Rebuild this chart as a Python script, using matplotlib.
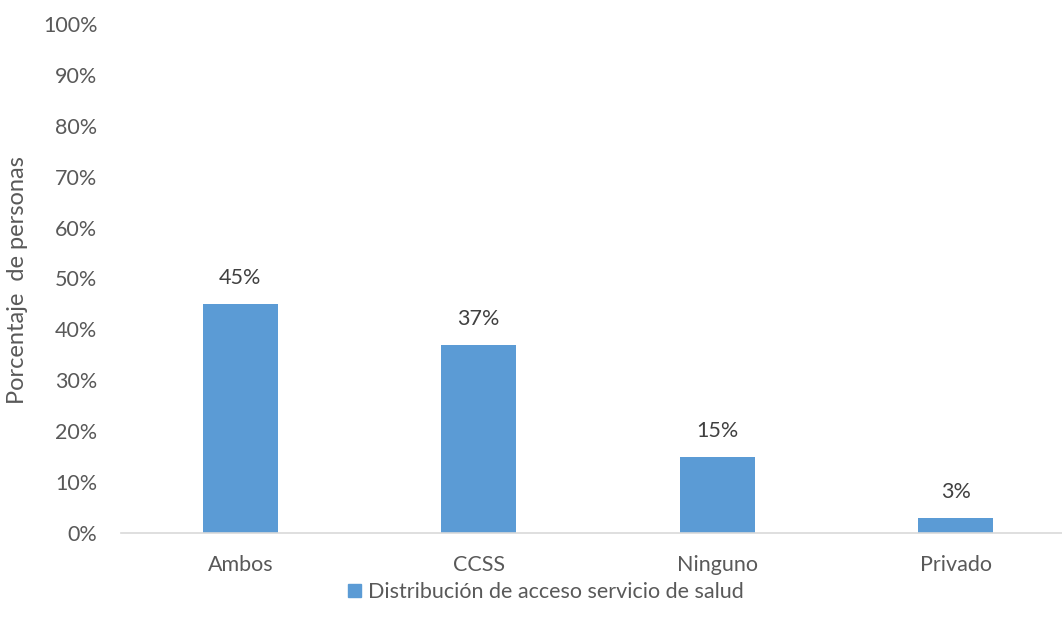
import numpy as np
import matplotlib.pyplot as plt
from matplotlib.patches import Patch

categorias = ["Ambos", "CCSS", "Ninguno", "Privado"]
porcentajes = [45, 37, 15, 3]
etiqueta_serie = "Distribución de acceso servicio de salud"

azul = "#5B9BD5"
gris = "#595959"
plt.rcParams['font.family'] = ['Lato', 'DejaVu Sans']

fig = plt.figure(figsize=(10.62, 6.24), dpi=100)
ax = fig.add_axes([121 / 1062, (624 - 533) / 624, 954 / 1062, 509 / 624])

x = np.arange(len(categorias))
barras = ax.bar(x, porcentajes, width=0.315, color=azul)
for xi, v in zip(x, porcentajes):
    ax.text(xi, v + 5.1, f"{v}%", ha='center', va='center', fontsize=15.5, color="#404040")

ax.set_xlim(-0.5, len(categorias) - 0.5)
ax.set_ylim(0, 100)
ax.set_yticks(np.arange(0, 101, 10))
ax.set_yticklabels([f"{t}%" for t in range(0, 101, 10)])
ax.set_xticks(x)
ax.set_xticklabels(categorias)
ax.tick_params(axis='both', length=0, labelsize=15.5, labelcolor=gris)
ax.tick_params(axis='y', pad=17)
ax.tick_params(axis='x', pad=16)

for lado in ['top', 'right', 'left']:
    ax.spines[lado].set_visible(False)
ax.spines['bottom'].set_color("#D9D9D9")
ax.spines['bottom'].set_linewidth(1.2)

fig.text(18 / 1062, 1 - 280 / 624, "Porcentaje  de personas", rotation=90,
         ha='center', va='center', fontsize=17, color=gris)

fig.legend(handles=[Patch(color=azul, label=etiqueta_serie)], loc='center',
           bbox_to_anchor=(546 / 1062, 1 - 592 / 624), frameon=False,
           fontsize=15.5, labelcolor=gris, handlelength=0.6, handleheight=0.6,
           handletextpad=0.3)

fig.savefig("out.png", dpi=100)
